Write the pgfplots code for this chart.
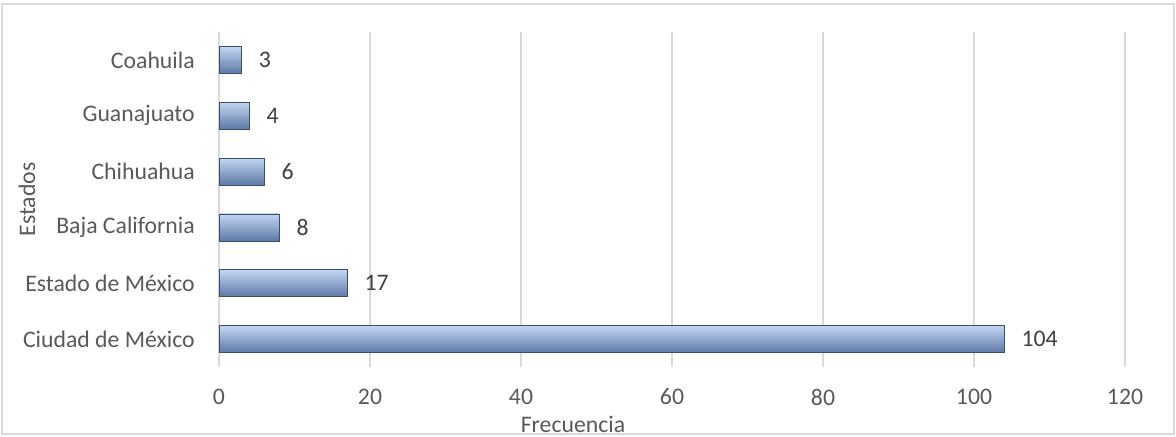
\documentclass[border=0pt]{standalone}
\usepackage{pgfplots}
\pgfplotsset{compat=1.18}
\usepackage{fontspec}
\setmainfont{Carlito}
\definecolor{txt}{HTML}{595959}
\definecolor{dtxt}{HTML}{404040}
\definecolor{grd}{HTML}{D9D9D9}
\definecolor{bartop}{HTML}{C3D6F2}
\definecolor{barmid}{HTML}{8EA9D8}
\definecolor{barbot}{HTML}{5D78A6}
\definecolor{baredge}{HTML}{3B4E6B}
\newcommand{\fs}{\fontsize{17.8}{21}\selectfont}
\begin{document}
\begin{tikzpicture}
\begin{axis}[
  scale only axis, width=679.5pt, height=251.25pt,
  xbar, bar width=20.25pt, bar shift=0pt,
  xmin=0, xmax=120, xtick={0,20,...,120},
  ymin=-0.5, ymax=5.5, ytick={0,...,5},
  yticklabels={Ciudad de México, Estado de México, Baja California, Chihuahua, Guanajuato, Coahuila},
  xmajorgrids, major grid style={grd, line width=0.9pt},
  axis line style={draw=none},
  major tick length=0pt,
  tick label style={font=\fs, text=txt},
  /pgf/number format/assume math mode=true,
  xticklabel style={anchor=center, yshift=-22.5pt},
  yticklabel style={anchor=east, inner sep=0pt, xshift=-18pt},
  nodes near coords,
  nodes near coords style={anchor=west, inner sep=0pt, xshift=12.75pt, font=\fs, text=dtxt},
  barstyle/.style={draw=baredge, line width=0.5pt, top color=bartop, middle color=barmid, bottom color=barbot},
]
\addplot[barstyle] coordinates {(104,0)};
\addplot[barstyle] coordinates {(17,1)};
\addplot[barstyle] coordinates {(8,2)};
\addplot[barstyle] coordinates {(6,3)};
\addplot[barstyle] coordinates {(4,4)};
\addplot[barstyle] coordinates {(3,5)};
\end{axis}
\node[rotate=90, font=\fs, text=txt] at ([xshift=-144pt]current axis.west) {Estados};
\node[font=\fs, text=txt] at ([shift={(265.5pt,-42.75pt)}]current axis.south west) {Frecuencia};
\draw[grd, line width=0.9pt] ([shift={(-162.75pt,-50.25pt)}]current axis.south west) rectangle ([shift={(716.25pt,272.25pt)}]current axis.south west);
\path ([shift={(-164.25pt,-51.75pt)}]current axis.south west) rectangle ([shift={(717.75pt,275.25pt)}]current axis.south west);
\end{tikzpicture}
\end{document}
